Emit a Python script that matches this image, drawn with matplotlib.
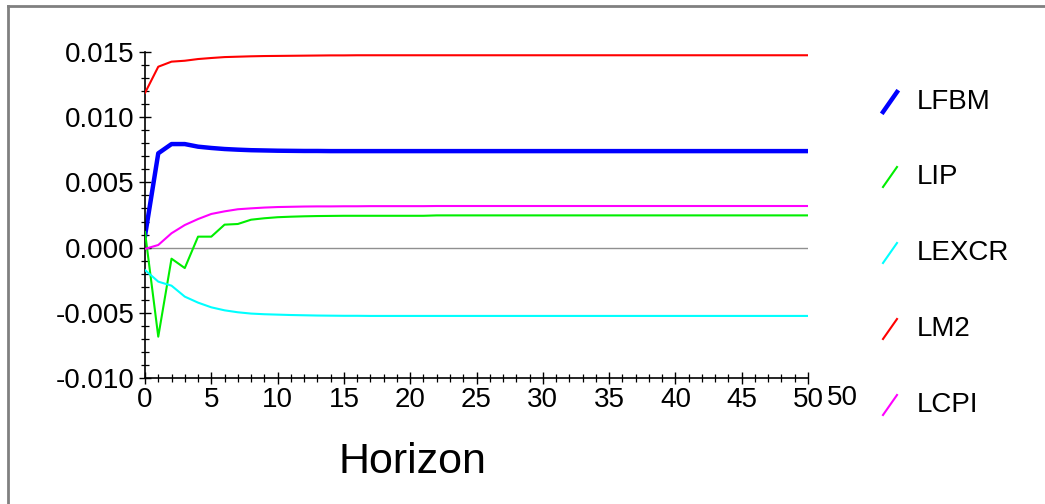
import matplotlib
matplotlib.use("Agg")
import matplotlib.pyplot as plt
from matplotlib.lines import Line2D
from matplotlib.ticker import MultipleLocator

plt.rcParams['font.family'] = ['Liberation Sans Narrow', 'Liberation Sans', 'DejaVu Sans']

horizon = list(range(51))

lfbm = [0.00089, 0.00723, 0.00794, 0.00794, 0.00774, 0.00764, 0.00756, 0.00751, 0.00747, 0.00745,
        0.00743, 0.00742, 0.00741, 0.00741, 0.00740, 0.00740, 0.00740, 0.00740, 0.00740, 0.00740,
        0.00740, 0.00740, 0.00740, 0.00740, 0.00740, 0.00740, 0.00740, 0.00740, 0.00740, 0.00740,
        0.00740, 0.00740, 0.00740, 0.00740, 0.00740, 0.00740, 0.00740, 0.00740, 0.00740, 0.00740,
        0.00740, 0.00740, 0.00740, 0.00740, 0.00740, 0.00740, 0.00740, 0.00740, 0.00740, 0.00740,
        0.00740]
lip = [0.00120, -0.00683, -0.00085, -0.00157, 0.00084, 0.00084, 0.00176, 0.00181, 0.00214, 0.00225,
       0.00233, 0.00237, 0.00240, 0.00242, 0.00243, 0.00244, 0.00244, 0.00244, 0.00244, 0.00244,
       0.00244, 0.00244, 0.00247, 0.00247, 0.00247, 0.00247, 0.00247, 0.00247, 0.00247, 0.00247,
       0.00247, 0.00247, 0.00247, 0.00247, 0.00247, 0.00247, 0.00247, 0.00247, 0.00247, 0.00247,
       0.00247, 0.00247, 0.00247, 0.00247, 0.00247, 0.00247, 0.00247, 0.00247, 0.00247, 0.00247,
       0.00247]
lexcr = [-0.00172, -0.00261, -0.00292, -0.00376, -0.00422, -0.00458, -0.00481, -0.00496, -0.00506, -0.00511,
         -0.00514, -0.00517, -0.00519, -0.00521, -0.00522, -0.00523, -0.00523, -0.00524, -0.00524, -0.00524,
         -0.00524, -0.00524, -0.00524, -0.00524, -0.00524, -0.00524, -0.00524, -0.00524, -0.00524, -0.00524,
         -0.00524, -0.00524, -0.00524, -0.00524, -0.00524, -0.00524, -0.00524, -0.00524, -0.00524, -0.00524,
         -0.00524, -0.00524, -0.00524, -0.00524, -0.00524, -0.00524, -0.00524, -0.00524, -0.00524, -0.00524,
         -0.00524]
lm2 = [0.01186, 0.01387, 0.01426, 0.01433, 0.01446, 0.01454, 0.01461, 0.01464, 0.01467, 0.01469,
       0.01470, 0.01471, 0.01472, 0.01473, 0.01474, 0.01474, 0.01475, 0.01475, 0.01475, 0.01475,
       0.01475, 0.01475, 0.01475, 0.01475, 0.01475, 0.01475, 0.01475, 0.01475, 0.01475, 0.01475,
       0.01475, 0.01475, 0.01475, 0.01475, 0.01475, 0.01475, 0.01475, 0.01475, 0.01475, 0.01475,
       0.01475, 0.01475, 0.01475, 0.01475, 0.01475, 0.01475, 0.01475, 0.01475, 0.01475, 0.01475,
       0.01475]
lcpi = [-0.00010, 0.00020, 0.00110, 0.00173, 0.00219, 0.00258, 0.00278, 0.00294, 0.00301, 0.00307,
        0.00311, 0.00313, 0.00315, 0.00316, 0.00316, 0.00317, 0.00317, 0.00318, 0.00318, 0.00318,
        0.00318, 0.00318, 0.00319, 0.00319, 0.00319, 0.00319, 0.00319, 0.00319, 0.00319, 0.00319,
        0.00319, 0.00319, 0.00319, 0.00319, 0.00319, 0.00319, 0.00319, 0.00319, 0.00319, 0.00319,
        0.00319, 0.00319, 0.00319, 0.00319, 0.00319, 0.00319, 0.00319, 0.00319, 0.00319, 0.00319,
        0.00319]

names = ["LFBM", "LIP", "LEXCR", "LM2", "LCPI"]
series = [lfbm, lip, lexcr, lm2, lcpi]
colors = ["#0000ff", "#00ee00", "#00ffff", "#ff0000", "#ff00ff"]
widths = [3.2, 1.5, 1.5, 1.5, 1.5]
ytick_labels = ["-0.010", "-0.005", "0.000", "0.005", "0.010", "0.015"]

fig = plt.figure(figsize=(10.45, 5.04), dpi=100)
ax = fig.add_axes([145 / 1045, 1 - 378 / 504, 663 / 1045, 326 / 504])

ax.axhline(0, color="#909090", lw=1.0, zorder=1)
# draw order: red behind, blue on top of the others
for i in [3, 4, 1, 2, 0]:
    ax.plot(horizon, series[i], color=colors[i], lw=widths[i], zorder=2 + i)

ax.set_xlim(0, 50)
ax.set_ylim(-0.010, 0.015)
ax.xaxis.set_major_locator(MultipleLocator(5))
ax.xaxis.set_minor_locator(MultipleLocator(1))
ax.yaxis.set_major_locator(MultipleLocator(0.005))
ax.yaxis.set_minor_locator(MultipleLocator(0.001))
ax.set_yticks([-0.010, -0.005, 0.0, 0.005, 0.010, 0.015], ytick_labels)
for s in ["top", "right"]:
    ax.spines[s].set_visible(False)
ax.spines["left"].set_linewidth(1.2)
ax.spines["bottom"].set_linewidth(1.2)
ax.tick_params(which="major", direction="inout", length=9, width=1.0, labelsize=20, pad=2)
ax.tick_params(which="minor", direction="inout", length=6, width=0.9)
ax.tick_params(axis="y", which="major", pad=3)

# duplicated end label as in the original
ax.text(52.6, -0.0105, "50", ha="center", va="top", fontsize=20, clip_on=False)
ax.text(0.404, -0.258, "Horizon", transform=ax.transAxes, ha="center", va="center", fontsize=31)

# legend drawn as slanted strokes beside labels
leg_y = [102, 177, 253, 329, 405]
for name, c, w, y in zip(names, colors, widths, leg_y):
    fig.add_artist(Line2D([883 / 1045, 897 / 1045], [1 - (y + 10) / 504, 1 - (y - 10) / 504],
                          color=c, lw=w, transform=fig.transFigure))
    fig.text(917 / 1045, 1 - y / 504, name, ha="left", va="center", fontsize=20)

# outer gray frame (left and top edges)
fig.add_artist(Line2D([8 / 1045, 8 / 1045], [0, 1 - 6 / 504], color="#808080", lw=2, transform=fig.transFigure))
fig.add_artist(Line2D([8 / 1045, 1], [1 - 6 / 504, 1 - 6 / 504], color="#808080", lw=2, transform=fig.transFigure))

fig.savefig("out.png", dpi=100)
